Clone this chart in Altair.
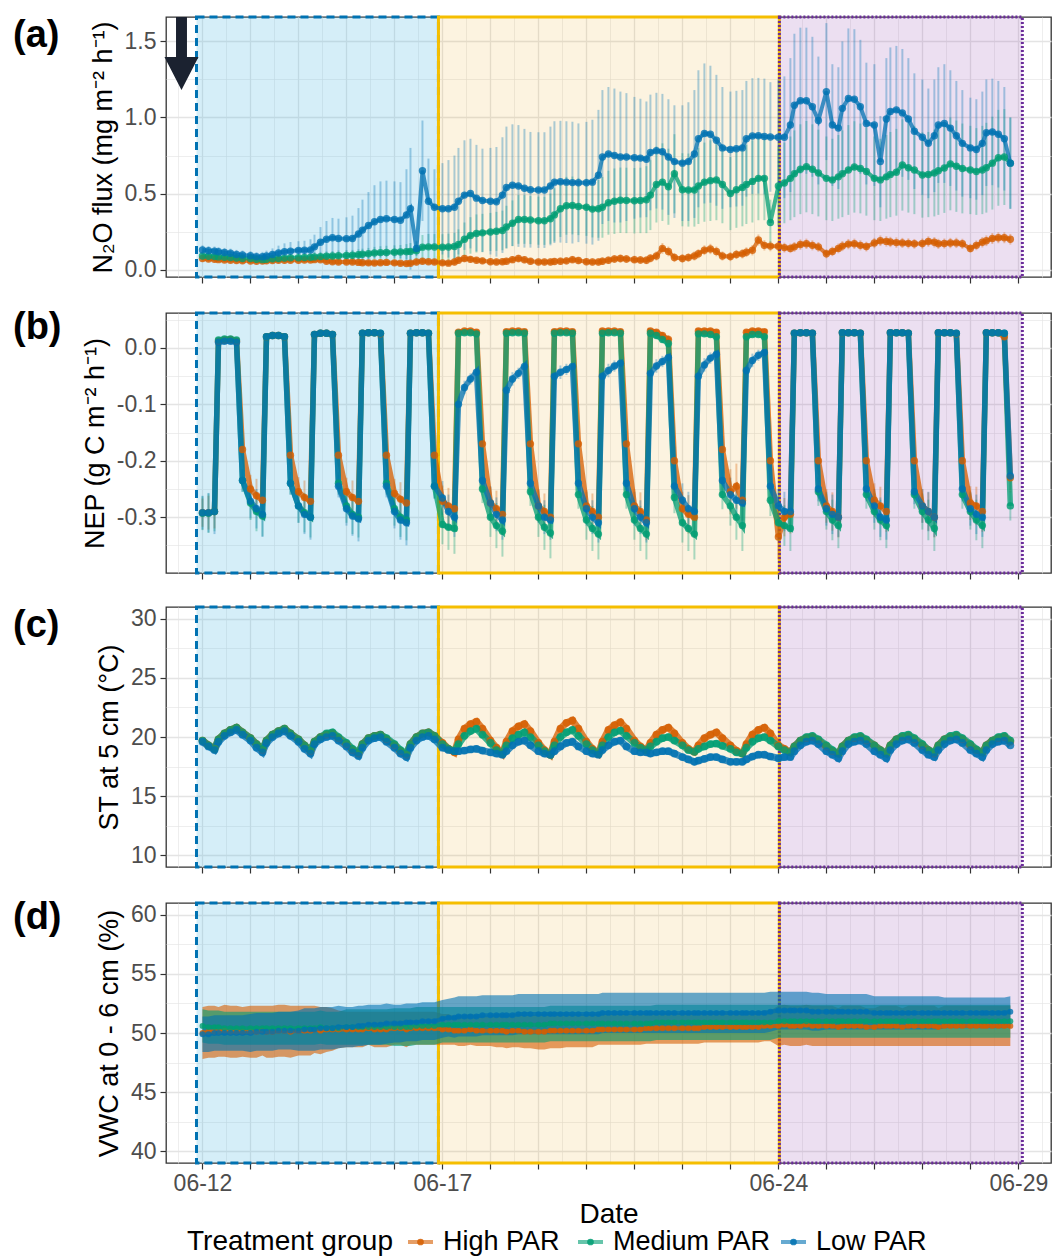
import altair as alt
import pandas as pd

# Eight readings per day, 12 June to 28 June
HOURS = [0, 3, 6, 8, 11, 14, 17, 20]
DAYS = list(range(12, 29))

GROUPS = ["High PAR", "Medium PAR", "Low PAR"]
COLORS = ["#D55E00", "#009E73", "#0072B2"]

# (a) N2O flux (mg m-2 h-1), group mean and error
N2O_HIGH = [
    .073, .070, .068, .066, .064, .062, .060, .058,
    .057, .056, .057, .058, .060, .062, .062, .062,
    .062, .063, .064, .066, .065, .055, .052, .050,
    .051, .050, .048, .046, .045, .044, .046, .048,
    .045, .042, .040, .042, .050, .055, .052, .050,
    .045, .043, .050, .062, .073, .068, .062, .058,
    .052, .051, .052, .055, .066, .073, .065, .055,
    .051, .050, .051, .054, .055, .058, .066, .060,
    .052, .051, .051, .056, .062, .070, .073, .070,
    .066, .064, .062, .075, .090, .140, .120, .080,
    .074, .080, .090, .105, .128, .136, .120, .090,
    .086, .100, .105, .115, .128, .195, .160, .155,
    .154, .145, .140, .150, .165, .170, .160, .150,
    .105, .120, .140, .155, .168, .170, .160, .152,
    .175, .190, .186, .182, .178, .176, .173, .170,
    .172, .185, .180, .170, .172, .175, .176, .170,
    .140, .160, .180, .190, .205, .210, .210, .200,
]
N2O_MED = [
    .090, .088, .086, .084, .082, .080, .076, .074,
    .073, .068, .066, .068, .072, .074, .076, .078,
    .079, .080, .082, .084, .086, .088, .090, .092,
    .094, .095, .098, .101, .105, .110, .112, .113,
    .115, .116, .118, .120, .124, .148, .150, .149,
    .148, .149, .152, .165, .200, .225, .238, .242,
    .248, .252, .258, .280, .305, .330, .330, .326,
    .322, .321, .335, .360, .400, .420, .422, .415,
    .410, .398, .400, .410, .440, .450, .456, .455,
    .453, .455, .460, .490, .560, .575, .545, .630,
    .525, .523, .523, .550, .575, .585, .590, .560,
    .500, .525, .540, .560, .580, .600, .600, .310,
    .550, .570, .600, .630, .660, .677, .660, .635,
    .600, .590, .610, .630, .655, .675, .665, .645,
    .600, .590, .610, .625, .640, .688, .670, .655,
    .622, .625, .635, .650, .668, .695, .680, .665,
    .655, .645, .655, .670, .700, .735, .740, .700,
]
N2O_LOW = [
    .130, .125, .122, .118, .113, .108, .100, .096,
    .092, .085, .085, .090, .100, .110, .118, .122,
    .127, .128, .130, .150, .180, .200, .210, .205,
    .204, .205, .235, .260, .290, .315, .330, .335,
    .330, .325, .360, .400, .140, .650, .450, .410,
    .400, .400, .410, .450, .490, .500, .470, .455,
    .450, .446, .490, .540, .555, .550, .535, .525,
    .523, .523, .550, .575, .578, .575, .572, .571,
    .571, .575, .620, .740, .760, .750, .740, .740,
    .735, .733, .725, .770, .782, .775, .740, .710,
    .700, .710, .760, .860, .895, .890, .850, .800,
    .790, .795, .800, .860, .878, .880, .875, .872,
    .870, .870, .950, 1.080, 1.110, 1.110, 1.070, .980,
    1.170, .950, .930, 1.060, 1.125, 1.120, 1.070, .960,
    .950, .710, .990, 1.040, 1.050, 1.030, .990, .910,
    .870, .830, .880, .950, .960, .930, .880, .830,
    .800, .790, .830, .900, .905, .890, .860, .700,
]
N2O_HIGH_ERR = [
    .020, .020, .022, .020, .018, .020, .020, .020,
    .020, .019, .020, .021, .020, .020, .022, .020,
    .021, .020, .020, .022, .020, .019, .020, .020,
    .020, .020, .019, .020, .021, .020, .020, .020,
    .020, .019, .020, .020, .022, .022, .020, .020,
    .020, .021, .022, .022, .024, .023, .022, .022,
    .022, .022, .022, .023, .024, .025, .023, .022,
    .022, .022, .023, .023, .024, .024, .025, .024,
    .023, .023, .024, .025, .025, .026, .027, .026,
    .026, .026, .026, .028, .030, .035, .032, .030,
    .028, .028, .030, .030, .032, .034, .032, .030,
    .030, .030, .031, .032, .034, .036, .034, .034,
    .032, .032, .031, .032, .034, .034, .033, .032,
    .030, .031, .032, .033, .034, .034, .033, .032,
    .034, .035, .034, .034, .034, .033, .033, .032,
    .033, .034, .034, .033, .033, .034, .034, .033,
    .030, .032, .034, .035, .036, .036, .036, .035,
]
N2O_MED_ERR = [
    .025, .025, .025, .024, .024, .024, .023, .023,
    .023, .022, .022, .023, .024, .025, .026, .026,
    .027, .028, .028, .030, .031, .032, .033, .034,
    .035, .035, .036, .037, .038, .040, .042, .044,
    .045, .046, .050, .055, .060, .080, .085, .085,
    .085, .088, .090, .100, .110, .120, .125, .125,
    .125, .128, .130, .140, .150, .160, .160, .158,
    .158, .158, .165, .175, .185, .190, .190, .188,
    .188, .186, .190, .200, .210, .215, .215, .215,
    .215, .215, .220, .230, .250, .255, .250, .260,
    .240, .240, .240, .250, .260, .265, .265, .255,
    .240, .250, .255, .260, .270, .275, .275, .150,
    .260, .265, .275, .285, .295, .300, .295, .285,
    .275, .270, .275, .285, .295, .300, .295, .290,
    .275, .270, .275, .280, .285, .300, .295, .290,
    .280, .280, .285, .290, .295, .305, .300, .295,
    .290, .285, .290, .295, .305, .315, .315, .300,
]
N2O_LOW_ERR = [
    .030, .030, .030, .030, .030, .030, .030, .030,
    .030, .030, .032, .035, .040, .048, .055, .060,
    .060, .062, .070, .080, .100, .120, .130, .130,
    .140, .150, .170, .200, .220, .240, .250, .250,
    .250, .250, .300, .400, .050, .330, .280, .250,
    .300, .320, .340, .350, .360, .360, .350, .340,
    .350, .360, .380, .400, .400, .400, .390, .380,
    .380, .380, .390, .400, .400, .400, .400, .390,
    .400, .410, .430, .440, .440, .440, .430, .420,
    .400, .390, .380, .380, .380, .380, .380, .370,
    .380, .390, .420, .450, .460, .450, .430, .400,
    .380, .380, .380, .380, .380, .380, .380, .360,
    .380, .400, .440, .470, .480, .480, .460, .420,
    .450, .400, .400, .440, .460, .460, .440, .400,
    .400, .300, .400, .420, .420, .420, .400, .380,
    .380, .360, .370, .380, .390, .380, .360, .350,
    .330, .330, .340, .350, .350, .350, .340, .300,
]

# (b) NEP (g C m-2 h-1), group mean and error
NEP_HIGH = [
    -.292, -.292, -.290, .012, .014, .015, .012, -.180,
    -.250, -.262, -.270, .020, .022, .022, .020, -.190,
    -.255, -.265, -.272, .024, .026, .026, .024, -.190,
    -.255, -.265, -.272, .026, .027, .027, .025, -.190,
    -.258, -.268, -.275, .026, .027, .027, .026, -.190,
    -.272, -.280, -.285, .028, .030, .030, .028, -.170,
    -.275, -.285, -.295, .029, .030, .030, .029, -.170,
    -.280, -.290, -.300, .029, .030, .030, .029, -.170,
    -.280, -.290, -.300, .030, .030, .030, .029, -.170,
    -.280, -.290, -.305, .030, .028, .022, .015, -.200,
    -.285, -.295, -.300, .030, .030, .030, .028, -.180,
    -.255, -.245, -.270, .028, .030, .030, .029, -.200,
    -.335, -.300, -.295, .026, .027, .027, .026, -.200,
    -.280, -.290, -.300, .027, .027, .027, .026, -.200,
    -.270, -.280, -.290, .027, .027, .027, .026, -.200,
    -.280, -.290, -.300, .027, .027, .027, .025, -.200,
    -.275, -.280, -.290, .027, .027, .027, .020, -.230,
]
NEP_MED = [
    -.293, -.293, -.290, .014, .016, .016, .014, -.235,
    -.275, -.290, -.298, .020, .022, .022, .020, -.240,
    -.280, -.292, -.300, .024, .026, .026, .024, -.240,
    -.280, -.295, -.300, .026, .027, .027, .026, -.240,
    -.285, -.300, -.305, .026, .027, .027, .026, -.245,
    -.313, -.318, -.320, .026, .027, .027, .025, -.250,
    -.300, -.315, -.325, .026, .027, .027, .026, -.255,
    -.300, -.318, -.328, .026, .027, .027, .026, -.260,
    -.305, -.320, -.330, .026, .027, .027, .026, -.260,
    -.305, -.320, -.330, .026, .022, .015, .008, -.265,
    -.310, -.320, -.330, .025, .025, .024, .020, -.260,
    -.280, -.300, -.315, .020, .024, .024, .020, -.270,
    -.310, -.315, -.320, .026, .027, .027, .026, -.255,
    -.290, -.305, -.315, .027, .027, .027, .026, -.260,
    -.290, -.305, -.315, .027, .027, .027, .026, -.260,
    -.290, -.305, -.320, .027, .027, .027, .026, -.260,
    -.290, -.305, -.315, .027, .027, .027, .026, -.280,
]
NEP_LOW = [
    -.292, -.292, -.290, .010, .012, .012, .010, -.235,
    -.272, -.285, -.295, .020, .022, .022, .020, -.240,
    -.280, -.295, -.300, .024, .026, .026, .024, -.245,
    -.285, -.298, -.303, .026, .027, .027, .026, -.245,
    -.290, -.305, -.310, .026, .027, .027, .026, -.245,
    -.266, -.290, -.300, -.100, -.070, -.055, -.043, -.235,
    -.275, -.295, -.305, -.075, -.055, -.045, -.033, -.240,
    -.280, -.300, -.305, -.050, -.043, -.038, -.033, -.240,
    -.285, -.300, -.310, -.050, -.040, -.032, -.027, -.240,
    -.285, -.300, -.310, -.045, -.032, -.024, -.017, -.245,
    -.270, -.285, -.290, -.050, -.030, -.018, -.011, -.235,
    -.260, -.270, -.275, -.040, -.022, -.013, -.008, -.245,
    -.280, -.290, -.290, .026, .027, .027, .026, -.250,
    -.285, -.295, -.300, .027, .027, .027, .026, -.250,
    -.280, -.300, -.305, .027, .027, .027, .026, -.255,
    -.280, -.290, -.300, .027, .027, .027, .026, -.250,
    -.285, -.295, -.300, .027, .027, .027, .026, -.227,
]
NEP_HIGH_ERR = [
    .025, .030, .030, .004, .003, .003, .004, .020,
    .025, .030, .032, .004, .003, .003, .004, .020,
    .026, .030, .032, .004, .003, .003, .004, .020,
    .025, .030, .032, .004, .003, .003, .004, .020,
    .026, .030, .032, .004, .003, .003, .004, .022,
    .028, .032, .035, .004, .003, .003, .004, .022,
    .028, .032, .035, .004, .003, .003, .004, .022,
    .028, .032, .036, .004, .003, .003, .004, .022,
    .028, .032, .036, .004, .003, .004, .005, .022,
    .030, .034, .036, .004, .004, .006, .008, .025,
    .030, .034, .036, .004, .003, .003, .004, .024,
    .040, .040, .036, .004, .003, .003, .004, .025,
    .040, .034, .034, .004, .003, .003, .004, .024,
    .030, .034, .036, .004, .003, .003, .004, .024,
    .030, .034, .036, .004, .003, .003, .004, .024,
    .030, .034, .036, .004, .003, .003, .004, .024,
    .030, .034, .036, .004, .003, .003, .005, .026,
]
NEP_MED_ERR = [
    .030, .035, .035, .004, .003, .003, .004, .020,
    .030, .035, .036, .004, .003, .003, .004, .020,
    .030, .035, .036, .004, .003, .003, .004, .020,
    .030, .035, .036, .004, .003, .003, .004, .020,
    .030, .035, .036, .004, .003, .003, .004, .022,
    .035, .040, .045, .005, .004, .004, .005, .025,
    .035, .040, .045, .005, .004, .004, .005, .025,
    .035, .040, .045, .005, .004, .004, .005, .025,
    .035, .040, .045, .005, .004, .004, .005, .025,
    .035, .040, .045, .005, .005, .006, .008, .028,
    .035, .040, .045, .005, .004, .004, .005, .026,
    .035, .040, .045, .005, .004, .004, .005, .028,
    .032, .036, .040, .004, .003, .003, .004, .025,
    .032, .036, .040, .004, .003, .003, .004, .025,
    .032, .036, .040, .004, .003, .003, .004, .025,
    .032, .036, .040, .004, .003, .003, .004, .025,
    .032, .036, .040, .004, .003, .003, .004, .026,
]
NEP_LOW_ERR = [
    .030, .035, .040, .004, .003, .003, .004, .020,
    .030, .035, .040, .004, .003, .003, .004, .020,
    .030, .035, .040, .004, .003, .003, .004, .020,
    .030, .035, .040, .004, .003, .003, .004, .020,
    .030, .035, .040, .004, .003, .003, .004, .022,
    .030, .030, .035, .015, .012, .010, .010, .020,
    .030, .030, .035, .015, .012, .010, .010, .020,
    .030, .030, .035, .014, .012, .010, .010, .020,
    .030, .030, .035, .014, .012, .010, .010, .020,
    .030, .030, .035, .014, .012, .010, .010, .020,
    .030, .030, .035, .014, .012, .010, .010, .020,
    .030, .030, .035, .014, .012, .010, .010, .022,
    .030, .035, .035, .004, .003, .003, .004, .022,
    .030, .035, .035, .004, .003, .003, .004, .022,
    .030, .035, .035, .004, .003, .003, .004, .022,
    .030, .035, .035, .004, .003, .003, .004, .022,
    .030, .035, .035, .004, .003, .003, .004, .025,
]

# (c) Soil temperature at 5 cm (deg C), group mean
ST_HIGH = [
    19.7, 19.3, 19.0, 19.8, 20.3, 20.6, 20.8, 20.4,
    19.9, 19.4, 18.9, 19.7, 20.2, 20.5, 20.7, 20.3,
    19.8, 19.3, 18.8, 19.6, 20.0, 20.2, 20.3, 19.9,
    19.4, 18.9, 18.6, 19.4, 19.9, 20.1, 20.2, 19.8,
    19.3, 18.8, 18.5, 19.4, 20.0, 20.3, 20.4, 20.1,
    19.5, 19.0, 18.7, 19.8, 20.7, 21.1, 21.3, 20.7,
    19.7, 19.1, 18.6, 19.6, 20.5, 20.9, 21.1, 20.5,
    19.5, 18.9, 18.5, 19.6, 20.7, 21.2, 21.4, 20.7,
    19.6, 19.0, 18.6, 19.6, 20.6, 21.0, 21.25, 20.7,
    19.7, 19.2, 18.9, 19.5, 20.2, 20.6, 20.8, 20.3,
    19.5, 19.0, 18.75, 19.3, 19.9, 20.2, 20.4, 19.9,
    19.3, 18.85, 18.6, 19.4, 20.2, 20.6, 20.8, 20.3,
    19.3, 19.0, 18.7, 19.2, 19.7, 19.9, 20.0, 19.7,
    19.2, 18.8, 18.6, 19.2, 19.7, 19.9, 20.0, 19.7,
    19.3, 18.9, 18.6, 19.3, 19.8, 20.0, 20.1, 19.8,
    19.3, 18.9, 18.6, 19.3, 19.8, 20.0, 20.1, 19.8,
    19.3, 18.9, 18.7, 19.3, 19.7, 19.9, 20.0, 19.6,
]
ST_MED = [
    19.7, 19.3, 19.0, 19.8, 20.3, 20.6, 20.8, 20.4,
    19.9, 19.4, 19.0, 19.7, 20.2, 20.5, 20.7, 20.3,
    19.8, 19.3, 18.9, 19.6, 20.0, 20.3, 20.4, 20.0,
    19.5, 19.0, 18.7, 19.4, 19.9, 20.1, 20.2, 19.9,
    19.4, 18.9, 18.6, 19.4, 20.0, 20.3, 20.4, 20.1,
    19.4, 19.0, 18.8, 19.4, 20.1, 20.5, 20.7, 20.2,
    19.5, 18.9, 18.6, 19.3, 19.9, 20.2, 20.4, 20.0,
    19.3, 18.8, 18.5, 19.3, 20.0, 20.4, 20.6, 20.1,
    19.4, 18.9, 18.6, 19.3, 20.0, 20.4, 20.55, 20.1,
    19.5, 19.1, 18.9, 19.2, 19.6, 19.9, 20.0, 19.7,
    19.3, 18.9, 18.75, 19.0, 19.2, 19.4, 19.45, 19.25,
    19.0, 18.7, 18.6, 19.1, 19.6, 19.9, 20.0, 19.7,
    19.2, 18.9, 18.7, 19.2, 19.7, 20.0, 20.1, 19.8,
    19.3, 18.9, 18.6, 19.2, 19.7, 20.0, 20.1, 19.8,
    19.3, 18.9, 18.6, 19.3, 19.8, 20.1, 20.2, 19.9,
    19.4, 18.9, 18.7, 19.3, 19.8, 20.1, 20.2, 19.9,
    19.4, 18.95, 18.7, 19.3, 19.7, 20.0, 20.1, 19.7,
]
ST_LOW = [
    19.6, 19.2, 18.9, 19.6, 20.1, 20.4, 20.6, 20.2,
    19.7, 19.1, 18.7, 19.5, 20.0, 20.3, 20.5, 20.1,
    19.6, 19.0, 18.6, 19.4, 19.8, 20.0, 20.1, 19.7,
    19.2, 18.7, 18.4, 19.1, 19.7, 19.9, 20.0, 19.6,
    19.1, 18.6, 18.3, 19.1, 19.7, 20.0, 20.1, 19.8,
    19.1, 18.9, 18.8, 18.8, 18.85, 18.95, 19.0, 18.85,
    18.7, 18.6, 18.5, 18.8, 19.3, 19.6, 19.7, 19.3,
    18.8, 18.6, 18.5, 18.8, 19.2, 19.5, 19.6, 19.2,
    18.8, 18.6, 18.5, 18.9, 19.3, 19.6, 19.7, 19.2,
    18.8, 18.7, 18.7, 18.6, 18.7, 18.8, 18.8, 18.6,
    18.3, 18.1, 17.9, 18.0, 18.15, 18.3, 18.3, 18.1,
    17.9, 17.9, 17.9, 18.1, 18.35, 18.5, 18.5, 18.35,
    18.2, 18.3, 18.3, 18.8, 19.3, 19.6, 19.7, 19.4,
    18.8, 18.5, 18.2, 18.8, 19.4, 19.6, 19.7, 19.4,
    18.8, 18.5, 18.2, 18.9, 19.4, 19.7, 19.8, 19.5,
    18.9, 18.5, 18.3, 18.9, 19.4, 19.7, 19.8, 19.5,
    18.9, 18.6, 18.3, 18.9, 19.4, 19.6, 19.7, 19.3,
]

# (d) Volumetric water content at 0-6 cm (%), group mean and error
VWC_HIGH = [
    50.0, 50.1, 50.1, 50.1, 50.2, 50.1, 50.1, 50.1,
    50.1, 50.1, 50.2, 50.1, 50.1, 50.2, 50.2, 50.1,
    50.2, 50.2, 50.2, 50.3, 50.2, 50.3, 50.3, 50.3,
    50.3, 50.3, 50.3, 50.3, 50.4, 50.3, 50.3, 50.3,
    50.4, 50.4, 50.3, 50.4, 50.4, 50.4, 50.4, 50.4,
    50.3, 50.3, 50.2, 50.2, 50.2, 50.3, 50.2, 50.2,
    50.2, 50.2, 50.2, 50.1, 50.2, 50.2, 50.1, 50.1,
    50.1, 50.1, 50.2, 50.2, 50.2, 50.2, 50.2, 50.2,
    50.2, 50.2, 50.3, 50.3, 50.3, 50.3, 50.3, 50.3,
    50.3, 50.3, 50.4, 50.4, 50.4, 50.4, 50.4, 50.4,
    50.4, 50.4, 50.4, 50.4, 50.5, 50.5, 50.5, 50.5,
    50.5, 50.5, 50.5, 50.5, 50.5, 50.5, 50.6, 50.6,
    50.6, 50.7, 50.6, 50.6, 50.6, 50.7, 50.6, 50.6,
    50.6, 50.6, 50.5, 50.6, 50.6, 50.6, 50.6, 50.5,
    50.5, 50.6, 50.6, 50.6, 50.6, 50.5, 50.6, 50.6,
    50.6, 50.6, 50.6, 50.5, 50.6, 50.6, 50.6, 50.6,
    50.6, 50.6, 50.6, 50.6, 50.6, 50.6, 50.6, 50.6,
]
VWC_MED = [
    50.6, 50.5, 50.5, 50.5, 50.4, 50.4, 50.4, 50.4,
    50.4, 50.4, 50.4, 50.4, 50.4, 50.4, 50.4, 50.4,
    50.4, 50.4, 50.4, 50.4, 50.5, 50.4, 50.4, 50.4,
    50.5, 50.5, 50.5, 50.5, 50.5, 50.5, 50.5, 50.5,
    50.5, 50.5, 50.5, 50.5, 50.6, 50.6, 50.6, 50.6,
    50.7, 50.7, 50.7, 50.7, 50.7, 50.7, 50.7, 50.7,
    50.7, 50.7, 50.7, 50.7, 50.7, 50.7, 50.7, 50.7,
    50.7, 50.7, 50.8, 50.8, 50.8, 50.8, 50.8, 50.8,
    50.8, 50.8, 50.8, 50.8, 50.8, 50.8, 50.8, 50.8,
    50.8, 50.8, 50.8, 50.8, 50.9, 50.9, 50.9, 50.9,
    50.9, 50.9, 50.9, 50.9, 50.9, 50.9, 50.9, 50.9,
    50.9, 50.9, 50.9, 50.9, 50.9, 50.9, 50.9, 50.9,
    51.0, 51.0, 51.0, 51.0, 51.0, 51.0, 51.0, 51.0,
    51.0, 51.0, 51.0, 51.0, 51.0, 51.0, 51.0, 51.0,
    51.0, 51.0, 51.0, 51.0, 51.0, 51.0, 51.0, 51.0,
    51.0, 51.0, 51.0, 51.0, 51.0, 51.0, 51.0, 51.0,
    51.0, 51.0, 51.0, 51.0, 51.0, 51.0, 51.0, 51.0,
]
VWC_LOW = [
    49.9, 49.9, 50.0, 50.0, 50.0, 50.0, 50.0, 50.0,
    50.0, 50.1, 50.1, 50.1, 50.1, 50.2, 50.2, 50.2,
    50.2, 50.3, 50.3, 50.3, 50.4, 50.4, 50.4, 50.5,
    50.5, 50.5, 50.6, 50.6, 50.7, 50.7, 50.7, 50.8,
    50.8, 50.8, 50.9, 50.9, 50.9, 51.0, 51.0, 51.0,
    51.2, 51.3, 51.3, 51.4, 51.4, 51.4, 51.4, 51.5,
    51.5, 51.5, 51.5, 51.5, 51.5, 51.6, 51.6, 51.6,
    51.6, 51.6, 51.6, 51.6, 51.6, 51.6, 51.6, 51.6,
    51.6, 51.6, 51.6, 51.7, 51.7, 51.7, 51.7, 51.7,
    51.7, 51.7, 51.7, 51.7, 51.7, 51.7, 51.7, 51.7,
    51.7, 51.7, 51.7, 51.7, 51.7, 51.7, 51.7, 51.7,
    51.7, 51.7, 51.7, 51.7, 51.7, 51.7, 51.7, 51.8,
    51.9, 51.9, 51.9, 51.9, 51.9, 51.9, 51.8, 51.8,
    51.8, 51.8, 51.8, 51.8, 51.8, 51.8, 51.8, 51.8,
    51.7, 51.7, 51.7, 51.7, 51.7, 51.7, 51.7, 51.7,
    51.7, 51.7, 51.7, 51.7, 51.7, 51.7, 51.7, 51.7,
    51.7, 51.7, 51.7, 51.7, 51.7, 51.7, 51.7, 51.8,
]
VWC_HIGH_ERR = [
    2.2, 2.2, 2.2, 2.1, 2.2, 2.2, 2.2, 2.1,
    2.2, 2.2, 2.1, 2.2, 2.2, 2.2, 2.2, 2.2,
    2.1, 2.1, 2.1, 2.0, 2.0, 1.9, 1.8, 1.6,
    1.5, 1.5, 1.5, 1.5, 1.4, 1.5, 1.5, 1.5,
    1.4, 1.4, 1.5, 1.4, 1.4, 1.4, 1.4, 1.4,
    1.3, 1.3, 1.2, 1.3, 1.3, 1.3, 1.3, 1.3,
    1.3, 1.4, 1.4, 1.4, 1.4, 1.4, 1.4, 1.4,
    1.5, 1.5, 1.5, 1.5, 1.5, 1.4, 1.4, 1.4,
    1.4, 1.4, 1.3, 1.3, 1.3, 1.3, 1.3, 1.3,
    1.3, 1.3, 1.3, 1.3, 1.3, 1.3, 1.3, 1.3,
    1.3, 1.3, 1.3, 1.3, 1.3, 1.3, 1.3, 1.3,
    1.3, 1.3, 1.3, 1.3, 1.3, 1.3, 1.3, 1.3,
    1.7, 1.7, 1.7, 1.7, 1.7, 1.7, 1.7, 1.7,
    1.7, 1.7, 1.6, 1.7, 1.7, 1.7, 1.7, 1.6,
    1.6, 1.7, 1.7, 1.7, 1.7, 1.6, 1.7, 1.7,
    1.7, 1.7, 1.7, 1.6, 1.7, 1.7, 1.7, 1.7,
    1.7, 1.7, 1.7, 1.7, 1.7, 1.7, 1.7, 1.7,
]
VWC_MED_ERR = [
    1.4, 1.4, 1.4, 1.4, 1.4, 1.4, 1.4, 1.4,
    1.4, 1.4, 1.4, 1.4, 1.4, 1.4, 1.4, 1.4,
    1.4, 1.4, 1.4, 1.4, 1.4, 1.4, 1.4, 1.4,
    1.5, 1.5, 1.5, 1.5, 1.5, 1.5, 1.5, 1.5,
    1.6, 1.6, 1.6, 1.6, 1.6, 1.6, 1.6, 1.6,
    1.5, 1.5, 1.5, 1.5, 1.5, 1.5, 1.5, 1.5,
    1.5, 1.5, 1.5, 1.5, 1.5, 1.5, 1.5, 1.5,
    1.5, 1.5, 1.5, 1.5, 1.5, 1.5, 1.5, 1.5,
    1.5, 1.5, 1.5, 1.5, 1.5, 1.5, 1.5, 1.5,
    1.5, 1.5, 1.5, 1.5, 1.5, 1.5, 1.5, 1.5,
    1.5, 1.5, 1.5, 1.5, 1.5, 1.5, 1.5, 1.5,
    1.5, 1.5, 1.5, 1.5, 1.5, 1.5, 1.5, 1.5,
    1.4, 1.4, 1.4, 1.4, 1.4, 1.4, 1.4, 1.4,
    1.4, 1.4, 1.4, 1.4, 1.4, 1.4, 1.4, 1.4,
    1.4, 1.4, 1.4, 1.4, 1.4, 1.4, 1.4, 1.4,
    1.4, 1.4, 1.4, 1.4, 1.4, 1.4, 1.4, 1.4,
    1.4, 1.4, 1.4, 1.4, 1.4, 1.4, 1.4, 1.4,
]
VWC_LOW_ERR = [
    1.5, 1.5, 1.5, 1.5, 1.5, 1.5, 1.5, 1.5,
    1.6, 1.6, 1.6, 1.6, 1.6, 1.6, 1.6, 1.6,
    1.7, 1.8, 1.8, 1.8, 1.8, 1.8, 1.8, 1.8,
    1.7, 1.7, 1.7, 1.7, 1.7, 1.7, 1.7, 1.7,
    1.6, 1.6, 1.6, 1.6, 1.6, 1.6, 1.6, 1.6,
    1.6, 1.6, 1.7, 1.7, 1.7, 1.7, 1.7, 1.7,
    1.7, 1.7, 1.7, 1.7, 1.7, 1.7, 1.7, 1.7,
    1.7, 1.7, 1.7, 1.7, 1.7, 1.7, 1.7, 1.7,
    1.7, 1.7, 1.7, 1.7, 1.7, 1.7, 1.7, 1.7,
    1.7, 1.7, 1.7, 1.7, 1.7, 1.7, 1.7, 1.7,
    1.7, 1.7, 1.7, 1.7, 1.7, 1.7, 1.7, 1.7,
    1.7, 1.7, 1.7, 1.7, 1.7, 1.7, 1.7, 1.7,
    1.6, 1.6, 1.6, 1.6, 1.6, 1.6, 1.6, 1.6,
    1.5, 1.5, 1.5, 1.5, 1.5, 1.5, 1.5, 1.5,
    1.4, 1.4, 1.4, 1.4, 1.4, 1.4, 1.4, 1.4,
    1.4, 1.4, 1.4, 1.4, 1.3, 1.3, 1.3, 1.3,
    1.3, 1.3, 1.3, 1.3, 1.3, 1.3, 1.3, 1.3,
]

# Experimental periods shaded behind the series
PERIOD_START = ["2023-06-11T21:00:00", "2023-06-16T22:00:00", "2023-06-24T00:30:00"]
PERIOD_END = ["2023-06-16T22:00:00", "2023-06-24T00:30:00", "2023-06-29T02:00:00"]
PERIOD_FILL = ["#4FB8E0", "#E69F00", "#8E44AD"]
PERIOD_FILL_OPACITY = [0.24, 0.12, 0.17]
PERIOD_STROKE = ["#0072B2", "#F5BE00", "#6A2C9A"]
PERIOD_DASH = [[8, 5], [1, 0], [2, 2]]

ARROW_TIME = "2023-06-11T13:30:00"

PANEL_W, PANEL_H = 885, 260
FONT = "Liberation Sans"
TICK_FONT_SIZE = 23

# legend row drawn under the bottom panel (pixel offsets from its plot origin)
LEGEND_TITLE = "Treatment group"
LEGEND_Y = 339
LEGEND_TITLE_X = 21
LEGEND_SYMBOL_X = [242, 412, 615]

times = [f"2023-06-{d:02d}T{h:02d}:00:00" for d in DAYS for h in HOURS]


def frame(means, errs):
    rows = []
    for g, vals, es in zip(GROUPS, means, errs):
        for t, v, e in zip(times, vals, es):
            rows.append({"time": t, "group": g, "value": v, "lo": v - e, "hi": v + e})
    return pd.DataFrame(rows)


X_SCALE = alt.Scale(domain=[alt.DateTime(year=2023, month=6, date=11, hours=5, minutes=45),
                            alt.DateTime(year=2023, month=6, date=29, hours=16, minutes=20)])
X_VALUES = [alt.DateTime(year=2023, month=6, date=d, hours=h)
            for d in range(11, 30) for h in (0, 12)]
IS_MIDNIGHT = "hours(datum.value) === 0"
LABEL_DAYS = "['06-12','06-17','06-24','06-29']"


def x_axis(bottom):
    opts = dict(
        values=X_VALUES,
        grid=True, gridColor="#E4E4E4",
        gridWidth={"condition": {"test": IS_MIDNIGHT, "value": 1.3}, "value": 0.65},
        tickOpacity={"condition": {"test": IS_MIDNIGHT, "value": 1}, "value": 0},
        tickColor="#333333", tickWidth=1.2, tickSize=6, domain=False,
        labelFont=FONT, labelFontSize=TICK_FONT_SIZE, labelColor="#4D4D4D", labelPadding=3,
        labelOverlap=False, labelFlush=False,
    )
    if bottom:
        opts.update(
            title="Date", titleFont=FONT, titleFontSize=28, titleFontWeight="normal",
            titleColor="black", titlePadding=5,
            labelExpr=(f"({IS_MIDNIGHT} && indexof({LABEL_DAYS}, timeFormat(datum.value, '%m-%d')) >= 0)"
                       " ? timeFormat(datum.value, '%m-%d') : ''"),
        )
    else:
        opts.update(title=None, labels=False)
    return alt.Axis(**opts)


def y_axis(title, values, step, digits):
    major = f"abs(datum.value / {step} - round(datum.value / {step})) < 1e-6"
    return alt.Axis(
        title=title, values=values,
        grid=True, gridColor="#E4E4E4",
        gridWidth={"condition": {"test": major, "value": 1.3}, "value": 0.65},
        tickOpacity={"condition": {"test": major, "value": 1}, "value": 0},
        tickColor="#333333", tickWidth=1.2, tickSize=6, domain=False,
        labelExpr=f"{major} ? (datum.value < 0 ? '-' : '') + format(abs(datum.value), '.{digits}f') : ''",
        labelFont=FONT, labelFontSize=TICK_FONT_SIZE, labelColor="#4D4D4D", labelPadding=4,
        titleFont=FONT, titleFontSize=27, titleFontWeight="normal", titleColor="black",
        titlePadding=7,
    )


COLOR = alt.Color("group:N", scale=alt.Scale(domain=GROUPS, range=COLORS), legend=None)


def legend_layers():
    one = pd.DataFrame({"label": [LEGEND_TITLE]})
    out = [alt.Chart(one).mark_text(
        align="left", baseline="middle", font=FONT, fontSize=28, color="black",
    ).encode(text="label:N", x=alt.value(LEGEND_TITLE_X), y=alt.value(LEGEND_Y))]
    for g, c, x0 in zip(GROUPS, COLORS, LEGEND_SYMBOL_X):
        gdf = pd.DataFrame({"label": [g]})
        out.append(alt.Chart(gdf).mark_rule(strokeWidth=4, opacity=0.6, color=c).encode(
            x=alt.value(x0), x2=alt.value(x0 + 25), y=alt.value(LEGEND_Y)))
        out.append(alt.Chart(gdf).mark_circle(size=45, opacity=0.85, color=c).encode(
            x=alt.value(x0 + 12.5), y=alt.value(LEGEND_Y)))
        out.append(alt.Chart(gdf).mark_text(
            align="left", baseline="middle", font=FONT, fontSize=27, color="black",
        ).encode(text="label:N", x=alt.value(x0 + 35), y=alt.value(LEGEND_Y)))
    return out


def panel(df, ytitle, ydomain, yvalues, step, digits, letter, letter_y,
          bottom=False, err="rule", line_w=4, pt_size=55, arrow=False):
    X = lambda f: alt.X(f"{f}:T", scale=X_SCALE, axis=x_axis(bottom))
    yscale = alt.Scale(domain=ydomain, nice=False, zero=False)
    Y = lambda f: alt.Y(f"{f}:Q", scale=yscale, axis=y_axis(ytitle, yvalues, step, digits))
    layers = []
    for i in range(3):
        pdf = pd.DataFrame({"start": [PERIOD_START[i]], "end": [PERIOD_END[i]]})
        layers.append(
            alt.Chart(pdf).mark_rect(
                fill=PERIOD_FILL[i], fillOpacity=PERIOD_FILL_OPACITY[i],
                stroke=PERIOD_STROKE[i], strokeWidth=3, strokeDash=PERIOD_DASH[i],
            ).encode(x=X("start"), x2="end", y=alt.value(0), y2=alt.value(PANEL_H))
        )
    base = alt.Chart(df)
    if err == "rule":
        layers.append(base.mark_rule(strokeWidth=2, opacity=0.33).encode(
            x=X("time"), y=Y("lo"), y2="hi", color=COLOR))
    elif err == "band":
        layers.append(base.mark_area(opacity=0.6).encode(
            x=X("time"),
            y=alt.Y("lo:Q", scale=yscale, axis=y_axis(ytitle, yvalues, step, digits), stack=None),
            y2="hi", color=COLOR))
    layers.append(base.mark_line(strokeWidth=line_w, opacity=0.75).encode(
        x=X("time"), y=Y("value"), color=COLOR))
    layers.append(base.mark_circle(size=pt_size, opacity=0.8).encode(
        x=X("time"), y=Y("value"), color=COLOR))
    if arrow:
        adf = pd.DataFrame({"time": [ARROW_TIME]})
        layers.append(alt.Chart(adf).mark_point(
            filled=True, color="#1B2230", opacity=1, strokeWidth=0,
            shape="M-0.15,-1L0.15,-1L0.15,0.096L0.466,0.096L0,1L-0.466,0.096L-0.15,0.096Z",
        ).encode(x=X("time"), y=alt.value(36.5), size=alt.value(5329)))
    ldf = pd.DataFrame({"label": [letter]})
    layers.append(alt.Chart(ldf).mark_text(
        align="left", baseline="alphabetic", font=FONT, fontSize=38, fontWeight="bold",
        color="black",
    ).encode(text="label:N", x=alt.value(-153), y=alt.value(letter_y)))
    if bottom:
        layers.extend(legend_layers())
    return alt.layer(*layers).properties(width=PANEL_W, height=PANEL_H)


n2o = frame([N2O_HIGH, N2O_MED, N2O_LOW], [N2O_HIGH_ERR, N2O_MED_ERR, N2O_LOW_ERR])
nep = frame([NEP_HIGH, NEP_MED, NEP_LOW], [NEP_HIGH_ERR, NEP_MED_ERR, NEP_LOW_ERR])
zeros = [0.0] * len(times)
st = frame([ST_HIGH, ST_MED, ST_LOW], [zeros, zeros, zeros])
vwc = frame([VWC_HIGH, VWC_MED, VWC_LOW], [VWC_HIGH_ERR, VWC_MED_ERR, VWC_LOW_ERR])

pa = panel(n2o, "N₂O flux (mg m⁻² h⁻¹)", [-0.048, 1.66],
           [0, 0.25, 0.5, 0.75, 1.0, 1.25, 1.5], 0.5, 1, "(a)", 30, arrow=True)
pb = panel(nep, "NEP (g C m⁻² h⁻¹)", [-0.399, 0.062],
           [-0.35, -0.3, -0.25, -0.2, -0.15, -0.1, -0.05, 0.0, 0.05], 0.1, 1, "(b)", 26,
           line_w=5.5, pt_size=55)
pc = panel(st, "ST at 5 cm (°C)", [9, 31],
           [10, 12.5, 15, 17.5, 20, 22.5, 25, 27.5, 30], 5, 0, "(c)", 30,
           err="none", line_w=7, pt_size=60)
pd_ = panel(vwc, "VWC at 0 - 6 cm (%)", [39, 61],
            [40, 42.5, 45, 47.5, 50, 52.5, 55, 57.5, 60], 5, 0, "(d)", 26,
            bottom=True, err="band", line_w=4, pt_size=35)

chart = alt.vconcat(pa, pb, pc, pd_, spacing=23).resolve_scale(
    x="independent", y="independent"
).properties(
    padding={"left": 12, "top": 14, "right": 4, "bottom": 0},
    background="white",
).configure_view(stroke="#333333", strokeWidth=1.3)

chart.save("out.html", embed_options={"renderer": "svg", "actions": False})
